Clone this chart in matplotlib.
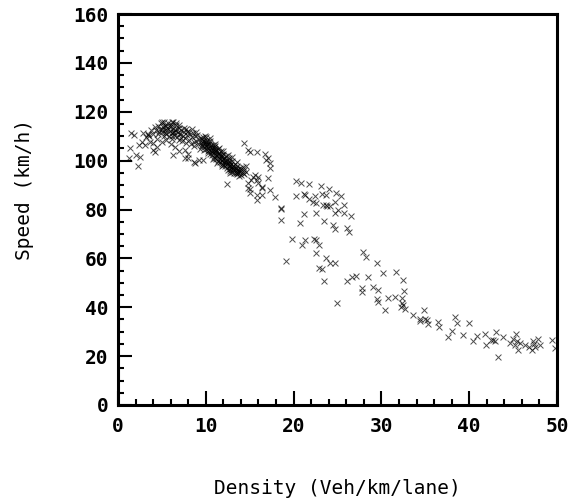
import numpy as np
import matplotlib
matplotlib.use("Agg")
import matplotlib.pyplot as plt
from matplotlib.ticker import MultipleLocator

plt.rcParams["font.family"] = ["DejaVu Sans Mono"]
plt.rcParams["font.weight"] = "bold"
plt.rcParams["font.size"] = 14

# ---------- data: (density [veh/km/lane], speed [km/h]) ----------

# scattered free-flow points at very low density
low_density = [
    (1.2, 101.2), (1.4, 105.0), (1.5, 111.2), (1.8, 110.5), (2.1, 102.3),
    (2.3, 97.8), (2.4, 106.4), (2.5, 101.6), (2.7, 107.8), (2.9, 111.4),
    (3.1, 106.3), (3.2, 109.8), (3.4, 110.8), (3.45, 110.5), (3.5, 109.9),
    (3.6, 107.8), (4.0, 104.3), (4.2, 103.6), (4.4, 105.7), (4.0, 107.4),
    (4.2, 113.9), (3.8, 112.6), (4.0, 110.8), (4.4, 108.7),
]

# first dense free-flow cluster
cluster_a = [
    (4.3, 112.5), (4.5, 114.0), (4.6, 110.8), (4.8, 112.9), (4.9, 115.2),
    (5.0, 111.6), (5.1, 113.8), (5.2, 109.9), (5.3, 112.4), (5.4, 114.6),
    (5.5, 111.0), (5.6, 113.3), (5.7, 115.5), (5.8, 110.2), (5.9, 112.1),
    (6.0, 114.1), (6.1, 111.3), (6.2, 108.9), (6.3, 113.0), (6.4, 110.5),
    (6.5, 112.6), (6.6, 114.4), (6.7, 109.7), (6.8, 111.8), (6.9, 113.5),
    (7.0, 108.6), (7.1, 110.9), (7.2, 112.7), (7.3, 107.9), (7.4, 110.1),
    (7.5, 111.9), (7.6, 109.2), (7.7, 113.0), (7.8, 107.4), (7.9, 110.6),
    (8.0, 112.0), (8.1, 108.5), (8.2, 110.9), (8.3, 106.9), (8.4, 109.6),
    (8.5, 111.3), (8.6, 107.8), (8.7, 105.9), (8.8, 109.9), (8.9, 108.2),
    (9.0, 110.4), (9.1, 106.6), (9.2, 108.8), (9.3, 104.9), (9.4, 107.3),
    (9.5, 109.4), (9.6, 105.8), (9.7, 107.9), (9.8, 104.2),
    (5.3, 111.2), (5.6, 112.5), (5.9, 113.7), (6.1, 110.0), (6.4, 111.6),
    (6.7, 112.9), (5.0, 113.0), (5.5, 114.2), (6.0, 115.0), (6.3, 111.9),
    (6.9, 110.7), (7.2, 109.4), (7.5, 113.4), (4.7, 111.8), (5.2, 116.0),
    (6.6, 115.5), (7.9, 111.6), (8.4, 112.8), (7.0, 114.6), (8.9, 111.8),
    (6.1, 115.9), (6.3, 115.9), (5.0, 115.9),
    (5.5, 108.3), (6.0, 106.8), (6.5, 105.6), (7.0, 103.9), (7.6, 104.5),
    (8.0, 102.6), (5.0, 107.6), (6.3, 102.3), (8.0, 100.9), (8.8, 98.9),
    (9.7, 100.2), (7.6, 100.9), (8.6, 99.5), (9.2, 100.2),
]

# second, densest cluster
cluster_b = [
    (9.6, 108.9), (9.6, 106.2), (9.7, 107.3), (9.7, 109.8), (9.8, 105.4),
    (9.8, 108.1), (9.9, 106.9), (9.9, 110.2), (10.0, 104.8), (10.0, 107.5),
    (10.0, 105.9), (10.1, 106.4), (10.1, 108.6), (10.2, 103.9), (10.2, 106.9),
    (10.3, 105.2), (10.3, 107.8), (10.3, 103.0), (10.4, 104.5), (10.4, 106.7),
    (10.5, 102.8), (10.5, 105.6), (10.5, 107.9), (10.6, 104.1), (10.6, 106.2),
    (10.7, 102.2), (10.7, 105.0), (10.7, 103.4), (10.8, 104.3), (10.8, 106.4),
    (10.9, 101.5), (10.9, 103.7), (10.9, 105.5), (11.0, 102.8), (11.0, 104.6),
    (11.0, 100.9), (11.1, 103.9), (11.1, 105.9), (11.2, 100.6), (11.2, 102.5),
    (11.2, 104.2), (11.3, 101.8), (11.3, 103.6), (11.4, 99.8), (11.4, 102.9),
    (11.4, 104.8), (11.5, 101.2), (11.5, 103.1), (11.6, 99.4), (11.6, 100.8),
    (11.6, 102.4), (11.7, 101.7), (11.7, 103.8), (11.8, 98.7), (11.8, 100.3),
    (11.8, 102.1), (11.9, 99.9), (11.9, 101.4), (12.0, 98.2), (12.0, 100.7),
    (12.0, 102.6), (12.1, 99.3), (12.1, 101.2), (12.2, 97.6), (12.2, 100.1),
    (12.2, 98.8), (12.3, 99.6), (12.3, 101.8), (12.4, 97.1), (12.4, 98.5),
    (12.4, 100.3), (12.5, 99.0), (12.5, 96.3), (12.6, 97.9), (12.6, 99.8),
    (12.6, 101.1), (12.7, 96.6), (12.7, 98.3), (12.8, 95.8), (12.8, 97.7),
    (12.8, 99.4), (12.9, 96.9), (12.9, 98.8), (13.0, 95.4), (13.0, 97.2),
    (13.0, 99.9), (13.1, 96.5), (13.1, 98.0), (13.2, 94.9), (13.2, 97.4),
    (13.3, 96.0), (13.3, 98.6), (13.4, 95.1), (13.4, 97.0), (13.5, 96.3),
    (13.5, 94.5), (13.6, 95.5), (13.6, 97.8), (13.7, 94.8), (13.7, 96.7),
    (13.8, 95.9), (13.8, 93.9), (13.9, 95.2), (13.9, 97.1), (14.0, 94.3),
    (14.0, 96.4), (14.2, 95.0), (14.2, 97.3), (14.4, 94.6), (14.4, 96.1),
    (14.6, 95.4), (14.6, 97.9),
    (11.0, 106.8), (11.5, 105.2), (12.0, 104.0), (12.5, 102.3), (13.0, 101.4),
    (10.5, 109.4), (10.0, 109.6), (11.9, 97.6), (12.7, 94.9), (13.6, 99.5),
    (10.8, 100.7), (11.3, 99.2),
]

# transition region, 14-19 veh/km
transition = [
    (14.3, 107.1), (14.8, 104.3), (15.0, 103.6), (15.8, 103.4), (16.7, 102.9),
    (16.9, 100.3), (17.1, 100.9), (17.3, 98.9), (17.3, 96.8), (15.6, 94.1),
    (16.0, 93.4), (15.2, 92.1), (15.4, 93.4), (15.8, 92.0), (14.8, 90.7),
    (16.0, 90.7), (16.4, 89.3), (17.1, 92.8), (15.0, 88.2), (14.8, 88.7),
    (16.4, 88.6), (17.3, 88.0), (15.0, 86.6), (15.8, 85.9), (16.4, 85.9),
    (17.9, 85.2), (15.8, 83.9), (12.4, 90.4), (18.6, 80.5),
]

# congested branches, 18-35 veh/km
congested = [
    (20.3, 91.7), (20.8, 91.0), (21.8, 90.4), (23.1, 89.6), (24.0, 88.2),
    (24.8, 86.9), (25.4, 85.5), (20.3, 85.5), (21.2, 86.3), (21.3, 85.9),
    (22.4, 85.5), (23.2, 86.2), (23.7, 85.8), (21.8, 84.2), (22.2, 83.2),
    (22.6, 82.5), (23.4, 81.8), (23.7, 81.8), (23.8, 81.5), (24.2, 81.4),
    (24.7, 83.2), (25.7, 81.8), (25.1, 79.8), (24.7, 78.7), (25.7, 78.4),
    (26.5, 77.3), (22.5, 78.4), (23.5, 75.3), (24.5, 73.6), (24.7, 72.0),
    (26.1, 72.6), (26.3, 70.7), (21.2, 78.1), (20.7, 74.3), (18.6, 80.1),
    (18.6, 75.7), (19.8, 67.8), (21.3, 67.5), (20.9, 65.5), (22.3, 67.8),
    (22.6, 67.5), (22.9, 65.5), (22.6, 62.1), (19.1, 58.9), (23.7, 60.0),
    (24.2, 58.0), (24.7, 58.0), (22.9, 55.9), (23.2, 55.5), (23.5, 50.7),
    (24.9, 41.9), (27.9, 62.7), (28.2, 60.4), (29.5, 58.2), (30.2, 54.1),
    (31.7, 54.6), (32.5, 51.1), (28.5, 52.2), (27.1, 52.8), (26.6, 52.5),
    (26.1, 50.9), (27.8, 48.0), (27.8, 46.4), (29.0, 48.1), (29.6, 47.2),
    (29.5, 43.2), (29.6, 42.3), (30.7, 43.6), (31.5, 44.3), (32.3, 43.6),
    (32.6, 46.6), (32.5, 40.9), (32.3, 41.6), (32.2, 40.0), (32.7, 39.1),
    (30.4, 38.9), (33.6, 36.8), (34.8, 38.9), (34.4, 35.1), (35.0, 35.1),
]

# heavily congested tail, 33-50 veh/km
jammed = [
    (34.4, 34.5), (35.2, 34.8), (35.3, 33.0), (36.5, 34.1), (36.6, 32.0),
    (38.4, 35.9), (38.6, 33.7), (40.0, 33.4), (38.0, 30.4), (37.6, 28.0),
    (39.3, 28.6), (40.4, 26.3), (40.9, 28.3), (41.8, 29.0), (43.1, 30.0),
    (41.9, 24.5), (42.5, 26.6), (42.9, 26.2), (42.7, 26.8), (43.3, 19.8),
    (43.9, 27.7), (44.6, 25.5), (45.0, 27.0), (45.3, 28.9), (45.2, 24.6),
    (45.6, 22.5), (45.8, 25.5), (45.5, 26.0), (46.4, 24.6), (46.8, 23.9),
    (47.3, 26.0), (47.5, 23.9), (47.4, 24.8), (47.8, 27.0), (47.1, 22.5),
    (48.1, 24.6), (49.4, 26.6), (49.8, 23.2),
]

groups = [low_density, cluster_a, cluster_b, transition, congested, jammed]

fig = plt.figure(figsize=(5.71, 5.01), dpi=100)
ax = fig.add_axes([118 / 571, 1 - 405 / 501, 439 / 571, 391 / 501])

for g in groups:
    pts = np.array(g)
    ax.scatter(pts[:, 0], pts[:, 1], marker="x", s=18, linewidths=0.7,
               color="black", alpha=0.7, zorder=3)

ax.set_xlim(0, 50)
ax.set_ylim(0, 160)
ax.xaxis.set_major_locator(MultipleLocator(10))
ax.xaxis.set_minor_locator(MultipleLocator(2))
ax.yaxis.set_major_locator(MultipleLocator(20))
ax.yaxis.set_minor_locator(MultipleLocator(5))

ax.tick_params(which="both", direction="in", top=False, right=False, width=1.5)
ax.tick_params(which="major", length=10)
ax.tick_params(which="minor", length=4.5)
ax.tick_params(axis="x", which="major", pad=9)
ax.tick_params(axis="y", which="major", pad=7)
for sp in ax.spines.values():
    sp.set_linewidth(2.2)

# end labels are pulled inside the frame
xlabs = ax.get_xticklabels()
xlabs[0].set_ha("left")
xlabs[-1].set_ha("right")
ylabs = ax.get_yticklabels()
ylabs[0].set_va("bottom")
ylabs[-1].set_va("top")

ax.set_xlabel("Density (Veh/km/lane)", va="center")
ax.xaxis.set_label_coords(0.5, (405 - 488) / 391)
ax.set_ylabel("Speed (km/h)", va="center")
ax.yaxis.set_label_coords((25 - 118) / 439, 0.55)

fig.savefig("out.png", dpi=100)
